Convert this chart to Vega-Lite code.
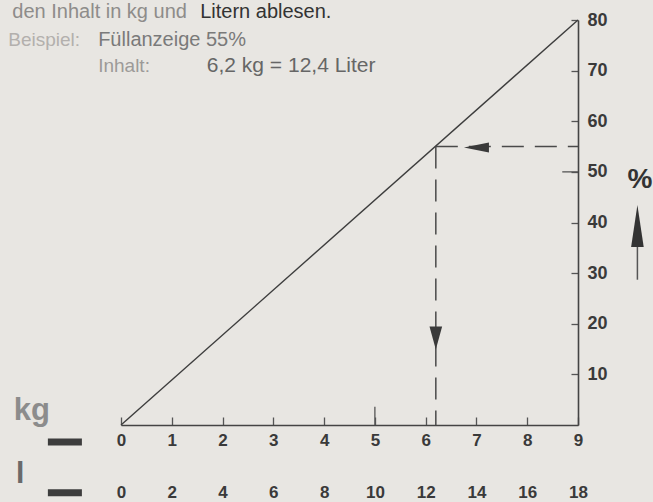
{
  "$schema": "https://vega.github.io/schema/vega-lite/v6.json",
  "width": 457,
  "height": 405,
  "autosize": {"type": "none"},
  "padding": {"left": 121, "top": 20, "right": 75, "bottom": 77},
  "background": "#e8e6e2",
  "config": {"view": {"stroke": null}, "font": "Liberation Sans", "axis": {"grid": false}},
  "layer": [
    {
      "layer": [
        {
          "data": {"values": [{"kg": 0, "pct": 0}, {"kg": 9, "pct": 80}]},
          "mark": {"type": "line", "color": "#3d3d3d", "strokeWidth": 1.4},
          "encoding": {
            "x": {
              "field": "kg", "type": "quantitative",
              "scale": {"domain": [0, 9], "nice": false},
              "axis": {
                "orient": "bottom", "values": [0, 1, 2, 3, 4, 5, 6, 7, 8, 9], "title": null, "format": "d",
                "domainColor": "#444", "domainWidth": 1.6, "tickColor": "#555", "tickWidth": 1.3,
                "tickSize": -8,
                "labelFont": "Liberation Sans", "labelFontSize": 17, "labelFontWeight": "bold", "labelColor": "#3a3a3a",
                "labelBaseline": "middle", "labelPadding": 23, "labelFlush": false, "labelOverlap": false
              }
            },
            "y": {
              "field": "pct", "type": "quantitative",
              "scale": {"domain": [0, 80], "nice": false},
              "axis": {
                "orient": "right", "values": [10, 20, 30, 40, 50, 60, 70, 80], "title": null,
                "domainColor": "#444", "domainWidth": 1.6, "tickColor": "#555", "tickWidth": 1.3,
                "tickSize": -7,
                "labelFont": "Liberation Sans", "labelFontSize": 18, "labelFontWeight": "bold", "labelColor": "#3a3a3a",
                "labelPadding": 16, "labelFlush": false, "labelOverlap": false
              }
            }
          }
        },
        {
          "data": {"values": [
            {"kg": 5, "kg2": 5, "pct": 0, "pct2": 3.6},
            {"kg": 8.69, "kg2": 9, "pct": 50, "pct2": 50}
          ]},
          "mark": {"type": "rule", "color": "#555", "strokeWidth": 1.3},
          "encoding": {
            "x": {"field": "kg", "type": "quantitative"},
            "x2": {"field": "kg2"},
            "y": {"field": "pct", "type": "quantitative"},
            "y2": {"field": "pct2"}
          }
        },
        {
          "data": {"values": [
            {"kg": 6.2, "kg2": 9, "pct": 55, "pct2": 55},
            {"kg": 6.2, "kg2": 6.2, "pct": 55, "pct2": 0}
          ]},
          "mark": {"type": "rule", "color": "#4a4a4a", "strokeWidth": 1.5, "strokeDash": [22, 11]},
          "encoding": {
            "x": {"field": "kg", "type": "quantitative"},
            "x2": {"field": "kg2"},
            "y": {"field": "pct", "type": "quantitative"},
            "y2": {"field": "pct2"}
          }
        },
        {
          "data": {"values": [{"kg": 10.17, "pct": 35.2, "pct2": 28.7}]},
          "mark": {"type": "rule", "color": "#555", "strokeWidth": 1.5},
          "encoding": {
            "x": {"field": "kg", "type": "quantitative"},
            "y": {"field": "pct", "type": "quantitative"},
            "y2": {"field": "pct2"}
          }
        },
        {
          "data": {"values": [{"kg": -1.44, "kg2": -0.77, "pct": -3.36}, {"kg": -1.44, "kg2": -0.77, "pct": -13.4}]},
          "mark": {"type": "rule", "color": "#3d3d3d", "strokeWidth": 7},
          "encoding": {
            "x": {"field": "kg", "type": "quantitative"},
            "x2": {"field": "kg2"},
            "y": {"field": "pct", "type": "quantitative"}
          }
        },
        {
          "data": {"values": [{"kg": 7.0, "pct": 54.8}]},
          "mark": {"type": "point", "shape": "M-1,0L1,-0.4L1,0.4Z", "size": 625, "filled": true, "opacity": 1, "color": "#3a3a3a", "strokeWidth": 0},
          "encoding": {"x": {"field": "kg", "type": "quantitative"}, "y": {"field": "pct", "type": "quantitative"}}
        },
        {
          "data": {"values": [{"kg": 6.2, "pct": 17.2}]},
          "mark": {"type": "point", "shape": "M-0.55,-1L0.55,-1L0,1Z", "size": 529, "filled": true, "opacity": 1, "color": "#3a3a3a", "strokeWidth": 0},
          "encoding": {"x": {"field": "kg", "type": "quantitative"}, "y": {"field": "pct", "type": "quantitative"}}
        },
        {
          "data": {"values": [{"kg": 10.17, "pct": 39.3}]},
          "mark": {"type": "point", "shape": "M0,-1L0.3,1L-0.3,1Z", "size": 1764, "filled": true, "opacity": 1, "color": "#333", "strokeWidth": 0},
          "encoding": {"x": {"field": "kg", "type": "quantitative"}, "y": {"field": "pct", "type": "quantitative"}}
        },
        {
          "data": {"values": [{"kg": -2.14, "pct": 80.4, "label": "den Inhalt in kg und"}]},
          "mark": {"type": "text", "align": "left", "baseline": "alphabetic", "fontSize": 20, "color": "#8e8c8a"},
          "encoding": {"x": {"field": "kg", "type": "quantitative"}, "y": {"field": "pct", "type": "quantitative"}, "text": {"field": "label"}}
        },
        {
          "data": {"values": [{"kg": 1.56, "pct": 80.4, "label": "Litern ablesen."}]},
          "mark": {"type": "text", "align": "left", "baseline": "alphabetic", "fontSize": 20, "color": "#333"},
          "encoding": {"x": {"field": "kg", "type": "quantitative"}, "y": {"field": "pct", "type": "quantitative"}, "text": {"field": "label"}}
        },
        {
          "data": {"values": [{"kg": -2.22, "pct": 74.9, "label": "Beispiel:"}]},
          "mark": {"type": "text", "align": "left", "baseline": "alphabetic", "fontSize": 19, "color": "#b3b0ad"},
          "encoding": {"x": {"field": "kg", "type": "quantitative"}, "y": {"field": "pct", "type": "quantitative"}, "text": {"field": "label"}}
        },
        {
          "data": {"values": [{"kg": -0.45, "pct": 74.9, "label": "Füllanzeige 55%"}]},
          "mark": {"type": "text", "align": "left", "baseline": "alphabetic", "fontSize": 20, "color": "#7a7a7a"},
          "encoding": {"x": {"field": "kg", "type": "quantitative"}, "y": {"field": "pct", "type": "quantitative"}, "text": {"field": "label"}}
        },
        {
          "data": {"values": [{"kg": -0.45, "pct": 69.8, "label": "Inhalt:"}]},
          "mark": {"type": "text", "align": "left", "baseline": "alphabetic", "fontSize": 19, "color": "#9c9a98"},
          "encoding": {"x": {"field": "kg", "type": "quantitative"}, "y": {"field": "pct", "type": "quantitative"}, "text": {"field": "label"}}
        },
        {
          "data": {"values": [{"kg": 1.69, "pct": 69.8, "label": "6,2 kg = 12,4 Liter"}]},
          "mark": {"type": "text", "align": "left", "baseline": "alphabetic", "fontSize": 21, "color": "#666"},
          "encoding": {"x": {"field": "kg", "type": "quantitative"}, "y": {"field": "pct", "type": "quantitative"}, "text": {"field": "label"}}
        },
        {
          "data": {"values": [{"kg": -2.11, "pct": 1.0, "label": "kg"}]},
          "mark": {"type": "text", "align": "left", "baseline": "alphabetic", "fontSize": 31, "fontWeight": "bold", "color": "#8c8c8c"},
          "encoding": {"x": {"field": "kg", "type": "quantitative"}, "y": {"field": "pct", "type": "quantitative"}, "text": {"field": "label"}}
        },
        {
          "data": {"values": [{"kg": -2.07, "pct": -11.5, "label": "l"}]},
          "mark": {"type": "text", "align": "left", "baseline": "alphabetic", "fontSize": 30, "fontWeight": "bold", "color": "#6a6a6a"},
          "encoding": {"x": {"field": "kg", "type": "quantitative"}, "y": {"field": "pct", "type": "quantitative"}, "text": {"field": "label"}}
        },
        {
          "data": {"values": [{"kg": 10.22, "pct": 48.4, "label": "%"}]},
          "mark": {"type": "text", "align": "center", "baseline": "middle", "fontSize": 28, "fontWeight": "bold", "color": "#333"},
          "encoding": {"x": {"field": "kg", "type": "quantitative"}, "y": {"field": "pct", "type": "quantitative"}, "text": {"field": "label"}}
        }
      ]
    },
    {
      "data": {"values": [{"liter": 12.4}]},
      "mark": {"type": "point", "opacity": 0},
      "encoding": {
        "x": {
          "field": "liter", "type": "quantitative",
          "scale": {"domain": [0, 18], "nice": false},
          "axis": {
            "orient": "bottom", "values": [0, 2, 4, 6, 8, 10, 12, 14, 16, 18], "title": null, "format": "d",
            "offset": 52, "domain": false, "ticks": false,
            "labelFont": "Liberation Sans", "labelFontSize": 17, "labelFontWeight": "bold", "labelColor": "#3a3a3a",
            "labelBaseline": "middle", "labelPadding": 15, "labelFlush": false, "labelOverlap": false
          }
        }
      }
    }
  ],
  "resolve": {"scale": {"x": "independent"}}
}
